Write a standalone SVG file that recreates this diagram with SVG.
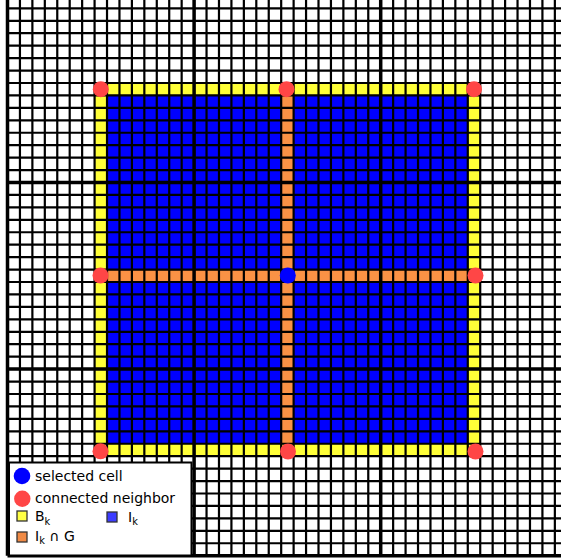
<svg xmlns="http://www.w3.org/2000/svg" width="561" height="560" viewBox="0 0 561 560">
<style>
.fine{fill:none;stroke:#000;stroke-width:2.2}
.thick{fill:none;stroke:#000;stroke-width:3.5}
.bk{fill:#ffff38}
.ik{fill:#0000ff}
.ig{fill:#fa9245}
.nb{fill:#ff4646}
.sel{fill:#0000ff}
.lt{font-family:"DejaVu Sans",sans-serif;font-size:14px;fill:#000}
.sub{font-size:9.8px}
.sw{stroke:#333;stroke-width:1.3}
</style>
<rect width="561" height="560" fill="#fff"/>
<g id="cells">
<rect class="bk" x="94.58" y="82.98" width="385.64" height="373.2"/>
<rect class="ik" x="107.02" y="95.42" width="360.76" height="348.32"/>
<rect class="ig" x="281.18" y="95.42" width="12.44" height="348.32"/>
<rect class="ig" x="107.02" y="269.58" width="360.76" height="12.44"/>
</g>
<g id="grid">
<path class="fine" d="M19.94 0V555.7M32.38 0V555.7M44.82 0V555.7M57.26 0V555.7M69.7 0V555.7M82.14 0V555.7M94.58 0V555.7M107.02 0V555.7M119.46 0V555.7M131.9 0V555.7M144.34 0V555.7M156.78 0V555.7M169.22 0V555.7M181.66 0V555.7M206.54 0V555.7M218.98 0V555.7M231.42 0V555.7M243.86 0V555.7M256.3 0V555.7M268.74 0V555.7M281.18 0V555.7M293.62 0V555.7M306.06 0V555.7M318.5 0V555.7M330.94 0V555.7M343.38 0V555.7M355.82 0V555.7M368.26 0V555.7M393.14 0V555.7M405.58 0V555.7M418.02 0V555.7M430.46 0V555.7M442.9 0V555.7M455.34 0V555.7M467.78 0V555.7M480.22 0V555.7M492.66 0V555.7M505.1 0V555.7M517.54 0V555.7M529.98 0V555.7M542.42 0V555.7M554.86 0V555.7"/>
<path class="fine" d="M7.5 8.34H561M7.5 20.78H561M7.5 33.22H561M7.5 45.66H561M7.5 58.1H561M7.5 70.54H561M7.5 82.98H561M7.5 95.42H561M7.5 107.86H561M7.5 120.3H561M7.5 132.74H561M7.5 145.18H561M7.5 157.62H561M7.5 170.06H561M7.5 194.94H561M7.5 207.38H561M7.5 219.82H561M7.5 232.26H561M7.5 244.7H561M7.5 257.14H561M7.5 269.58H561M7.5 282.02H561M7.5 294.46H561M7.5 306.9H561M7.5 319.34H561M7.5 331.78H561M7.5 344.22H561M7.5 356.66H561M7.5 381.54H561M7.5 393.98H561M7.5 406.42H561M7.5 418.86H561M7.5 431.3H561M7.5 443.74H561M7.5 456.18H561M7.5 468.62H561M7.5 481.06H561M7.5 493.5H561M7.5 505.94H561M7.5 518.38H561M7.5 530.82H561M7.5 543.26H561"/>
<path class="thick" d="M7.5 0V555.7M194.1 0V555.7M380.7 0V555.7M7.5 182.5H561M7.5 369.1H561M7.5 555.7H561"/>
</g>
<g id="neighbors">
<circle id="n1" class="nb" cx="100.8" cy="89.2" r="8"/>
<circle id="n2" class="nb" cx="286.5" cy="89.2" r="8"/>
<circle id="n3" class="nb" cx="474" cy="89.2" r="8"/>
<circle id="n4" class="nb" cx="100.5" cy="275.5" r="8"/>
<circle id="n5" class="nb" cx="475.5" cy="275.5" r="8"/>
<circle id="n6" class="nb" cx="100.5" cy="451.3" r="8"/>
<circle id="n7" class="nb" cx="288" cy="451.5" r="8"/>
<circle id="n8" class="nb" cx="475.5" cy="451.5" r="8"/>
</g>
<g id="selected">
<circle class="sel" cx="287.8" cy="275.5" r="8"/>
</g>
<g id="legend">
<rect x="9" y="462.5" width="182.5" height="93" fill="#fff" stroke="#000" stroke-width="2"/>
<circle class="sel" cx="22" cy="476" r="8.3"/>
<text class="lt" x="35" y="481.3">selected cell</text>
<circle class="nb" cx="22.3" cy="498.7" r="8.2"/>
<text class="lt" x="35" y="503.3">connected neighbor</text>
<rect class="sw" x="17" y="511" width="10" height="10" fill="#ffff44"/>
<text class="lt" x="35" y="521.3">B<tspan class="sub" dy="3.5">k</tspan></text>
<rect class="sw" x="107" y="512" width="10" height="10" fill="#3c3cff"/>
<text class="lt" x="128" y="521.8">I<tspan class="sub" dy="3.5">k</tspan></text>
<rect class="sw" x="17" y="532" width="10" height="10" fill="#f08a45"/>
<text class="lt" x="35" y="540.7">I<tspan class="sub" dy="3.5">k</tspan><tspan dy="-3.5"> ∩ G</tspan></text>
</g>
</svg>
